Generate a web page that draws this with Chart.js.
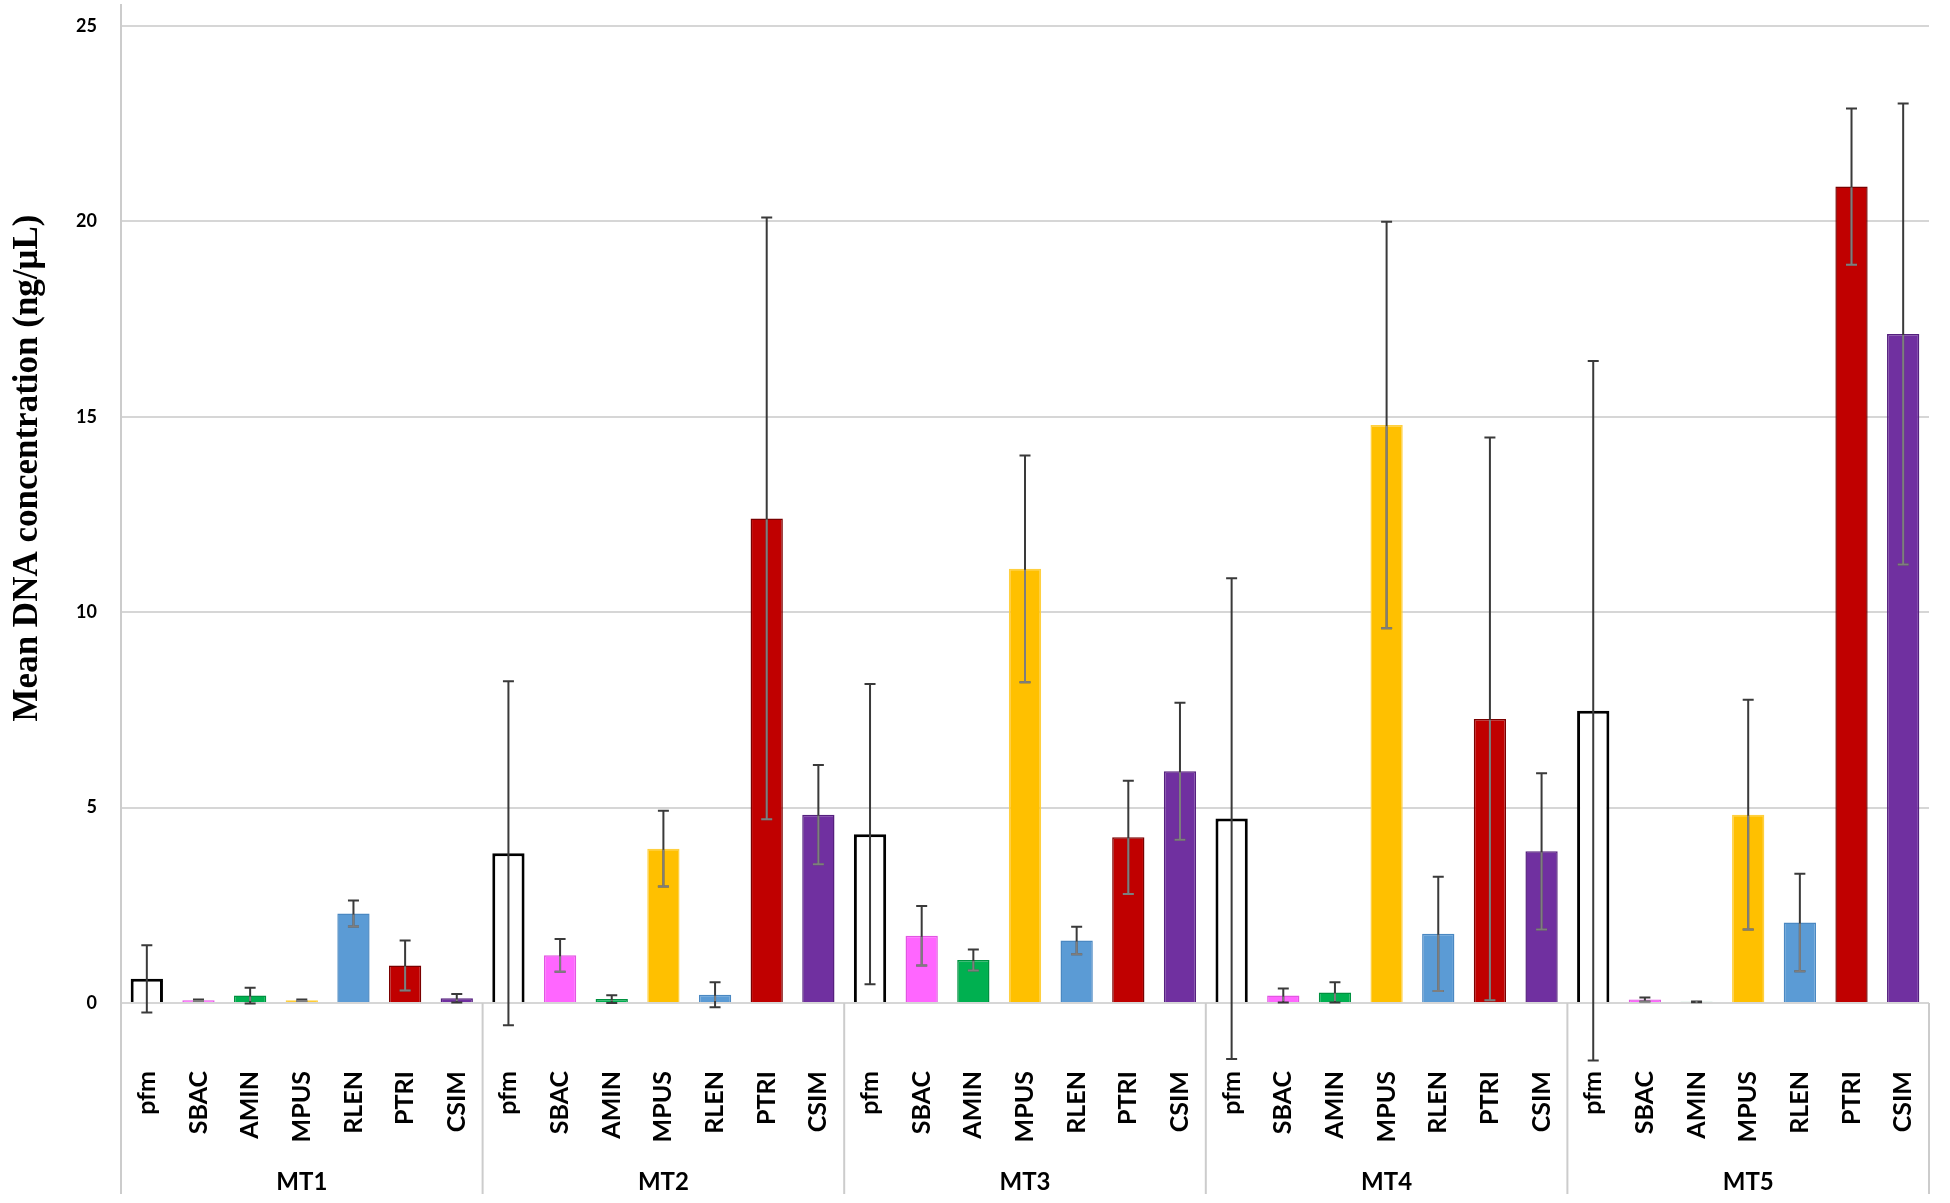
<!DOCTYPE html>
<html>
<head>
<meta charset="utf-8">
<title>Mean DNA concentration</title>
<script src="https://cdn.jsdelivr.net/npm/chart.js@4"></script>
<style>
  html, body { margin: 0; padding: 0; background: #fff; }
  #dnaChart { display: block; }
</style>
</head>
<body>
<canvas id="dnaChart" width="1950" height="1203"></canvas>
<script>
const species = ["pfm", "SBAC", "AMIN", "MPUS", "RLEN", "PTRI", "CSIM"];
const groups = ["MT1", "MT2", "MT3", "MT4", "MT5"];
const yTicks = [0, 5, 10, 15, 20, 25];
const yTitle = "Mean DNA concentration (ng/μL)";

// mean values per group, in species order
const mt1Mean = [0.62, 0.07, 0.19, 0.07, 2.29, 0.96, 0.12];
const mt2Mean = [3.83, 1.22, 0.10, 3.95, 0.21, 12.40, 4.82];
const mt3Mean = [4.32, 1.72, 1.10, 11.11, 1.60, 4.24, 5.93];
const mt4Mean = [4.72, 0.19, 0.27, 14.79, 1.77, 7.27, 3.88];
const mt5Mean = [7.48, 0.09, 0.03, 4.82, 2.06, 20.89, 17.12];

// +/- error per group
const mt1Err = [0.86, 0.02, 0.20, 0.02, 0.33, 0.64, 0.11];
const mt2Err = [4.40, 0.42, 0.10, 0.97, 0.32, 7.70, 1.27];
const mt3Err = [3.84, 0.76, 0.27, 2.90, 0.35, 1.45, 1.75];
const mt4Err = [6.15, 0.18, 0.26, 5.20, 1.46, 7.20, 2.00];
const mt5Err = [8.95, 0.05, 0.01, 2.94, 1.25, 2.00, 5.90];

const speciesFill = ["#ffffff", "#ff66ff", "#00b050", "#ffc000", "#5b9bd5", "#c00000", "#7030a0"];
const speciesBorder = ["#000000", "#e255e2", "#00903f", "#ffd040", "#4a88c2", "#7a0000", "#55207e"];

const meanRows = [mt1Mean, mt2Mean, mt3Mean, mt4Mean, mt5Mean];
const errRows = [mt1Err, mt2Err, mt3Err, mt4Err, mt5Err];

const labels = [];
const means = [];
const errors = [];
const fills = [];
const borders = [];
const borderWidths = [];
meanRows.forEach((row, g) => {
    row.forEach((v, i) => {
        labels.push(species[i]);
        means.push(v);
        errors.push(errRows[g][i]);
        fills.push(speciesFill[i]);
        borders.push(speciesBorder[i]);
        borderWidths.push(i === 0 ? 3 : 1.5);
    });
});

const errorBars = {
    id: "errorBars",
    afterDatasetsDraw(chart) {
        const { ctx, scales: { y } } = chart;
        const meta = chart.getDatasetMeta(0);
        const cap = 5.5;
        ctx.save();
        ctx.lineWidth = 2;
        meta.data.forEach((bar, i) => {
            const top = y.getPixelForValue(means[i] + errors[i]);
            const bot = y.getPixelForValue(means[i] - errors[i]);
            ctx.strokeStyle = "#3a3a3a";
            ctx.beginPath();
            ctx.moveTo(bar.x, top);
            ctx.lineTo(bar.x, bot);
            ctx.moveTo(bar.x - cap, top);
            ctx.lineTo(bar.x + cap, top);
            ctx.moveTo(bar.x - cap, bot);
            ctx.lineTo(bar.x + cap, bot);
            ctx.stroke();
            // the part over a filled bar shows lighter, as in the original
            if (i % species.length !== 0) {
                ctx.strokeStyle = "rgba(150,150,150,0.75)";
                ctx.beginPath();
                ctx.moveTo(bar.x, bar.y + 1);
                ctx.lineTo(bar.x, Math.min(bot, bar.base) - 1);
                if (bot < bar.base) {
                    ctx.moveTo(bar.x - cap, bot);
                    ctx.lineTo(bar.x + cap, bot);
                }
                ctx.stroke();
            }
        });
        ctx.restore();
    }
};

// group separators under the axis + y title
const groupLines = {
    id: "groupLines",
    afterDraw(chart) {
        const { ctx, scales: { x, y } } = chart;
        const step = x.width / labels.length;
        ctx.save();
        ctx.strokeStyle = "#cccccc";
        ctx.lineWidth = 2;
        for (let g = 0; g <= groups.length; g++) {
            const px = x.left + g * species.length * step;
            ctx.beginPath();
            ctx.moveTo(px, g === 0 ? 4 : y.bottom);
            ctx.lineTo(px, 1194);
            ctx.stroke();
        }
        ctx.translate(28, 468);
        ctx.rotate(-Math.PI / 2);
        ctx.fillStyle = "#000";
        ctx.font = "bold 35px 'Liberation Serif'";
        ctx.textAlign = "center";
        ctx.textBaseline = "middle";
        ctx.fillText(yTitle, 0, 0);
        ctx.restore();
    }
};

const noPad = (s) => {
    s.paddingLeft = 0;
    s.paddingRight = 0;
    s.paddingTop = 0;
    s.paddingBottom = 0;
};

const ctx = document.getElementById("dnaChart").getContext("2d");

const chart = new Chart(ctx, {
    type: "bar",
    data: {
        labels: labels,
        datasets: [
            {
                data: means,
                backgroundColor: fills,
                borderColor: borders,
                borderWidth: borderWidths,
                barPercentage: 0.625,
                categoryPercentage: 1,
            },
        ],
    },
    options: {
        responsive: false,
        animation: false,
        devicePixelRatio: 1,
        layout: { padding: { left: 0, right: 21, top: 26, bottom: 0 } },
        plugins: {
            legend: { display: false },
            tooltip: { enabled: false },
        },
        scales: {
            x: {
                position: "bottom",
                grid: { display: false, drawTicks: false },
                border: { display: false },
                ticks: {
                    autoSkip: false,
                    minRotation: 90,
                    maxRotation: 90,
                    padding: 68,
                    color: "#000",
                    font: { family: "Lato", size: 25, weight: "bold" },
                },
                afterFit: (s) => { s.height = 148; noPad(s); },
            },
            x2: {
                type: "category",
                labels: groups,
                position: "bottom",
                offset: true,
                grid: { display: false, drawTicks: false },
                border: { display: false },
                ticks: {
                    padding: 17,
                    color: "#000",
                    font: { family: "Lato", size: 24, weight: "bold" },
                },
                afterFit: (s) => { s.height = 52; noPad(s); },
            },
            y: {
                min: 0,
                max: 25,
                grid: { color: "#d6d6d6", lineWidth: 2, drawTicks: false },
                border: { display: false },
                ticks: {
                    padding: 24,
                    color: "#000",
                    font: { family: "Lato", size: 18, weight: "bold" },
                },
                afterBuildTicks: (s) => { s.ticks = yTicks.map((v) => ({ value: v })); },
                afterFit: (s) => { s.width = 121; noPad(s); },
            },
        },
    },
    plugins: [errorBars, groupLines],
});
</script>
</body>
</html>
